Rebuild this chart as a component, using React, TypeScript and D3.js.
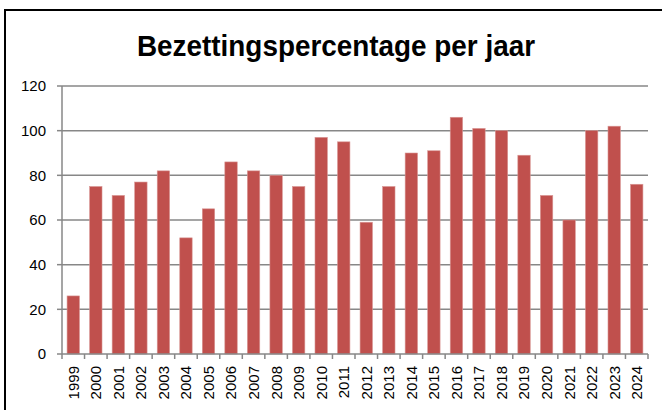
import React from "react";
import * as d3 from "d3";

const years = ["1999","2000","2001","2002","2003","2004","2005","2006","2007","2008","2009","2010","2011","2012","2013","2014","2015","2016","2017","2018","2019","2020","2021","2022","2023","2024"];
const values = [26,75,71,77,82,52,65,86,82,80,75,97,95,59,75,90,91,106,101,100,89,71,60,100,102,76];
const yTicks = [0,20,40,60,80,100,120];
const title = "Bezettingspercentage per jaar";

export default function App() {
  const W = 662, H = 410;
  const left = 62, right = 648, top = 86, bottom = 354;
  const x = d3.scaleBand<string>().domain(years).range([left, right]).paddingInner(0.45).paddingOuter(0.225);
  const y = d3.scaleLinear().domain([0, 120]).range([bottom, top]);
  const step = x.step();
  const font = "'Liberation Sans', Arial, sans-serif";
  return (
    <div style={{ position: "absolute", left: 0, top: 0 }}>
      <svg width={W} height={H} style={{ display: "block" }}>
        <rect x={0} y={0} width={W} height={H} fill="#fff" />
        <rect x={5} y={10} width={W + 10} height={H + 10} fill="none" stroke="#000" strokeWidth={2} />
        <text x={336} y={56} textAnchor="middle" fontFamily={font} fontWeight="bold" fontSize={29} textLength={398} lengthAdjust="spacingAndGlyphs" fill="#000">{title}</text>
        {yTicks.map(t => (
          <g key={t}>
            {t > 0 && <line x1={left} x2={right} y1={y(t)} y2={y(t)} stroke="#878787" strokeWidth={1.5} />}
            <line x1={left - 5} x2={left} y1={y(t)} y2={y(t)} stroke="#878787" strokeWidth={1.5} />
            <text x={46} y={y(t)} dy="0.36em" textAnchor="end" fontFamily={font} fontSize={15} fill="#000">{t}</text>
          </g>
        ))}
        {years.map((yr, i) => (
          <rect key={yr} x={x(yr)} y={y(values[i])} width={x.bandwidth()} height={bottom - y(values[i])} fill="#c0504d" stroke="#d99694" strokeWidth={0.6} />
        ))}
        <line x1={left} x2={left} y1={top} y2={bottom} stroke="#878787" strokeWidth={1.5} />
        <line x1={left} x2={right} y1={bottom} y2={bottom} stroke="#878787" strokeWidth={1.5} />
        {d3.range(years.length + 1).map(i => (
          <line key={i} x1={left + i * step} x2={left + i * step} y1={bottom} y2={bottom + 5} stroke="#878787" strokeWidth={1.5} />
        ))}
        {years.map(yr => {
          const cx = (x(yr) as number) + x.bandwidth() / 2;
          return (
            <text key={yr} transform={`translate(${cx},366) rotate(-90)`} textAnchor="end" dy="0.36em" fontFamily={font} fontSize={15} fill="#000">{yr}</text>
          );
        })}
      </svg>
    </div>
  );
}
